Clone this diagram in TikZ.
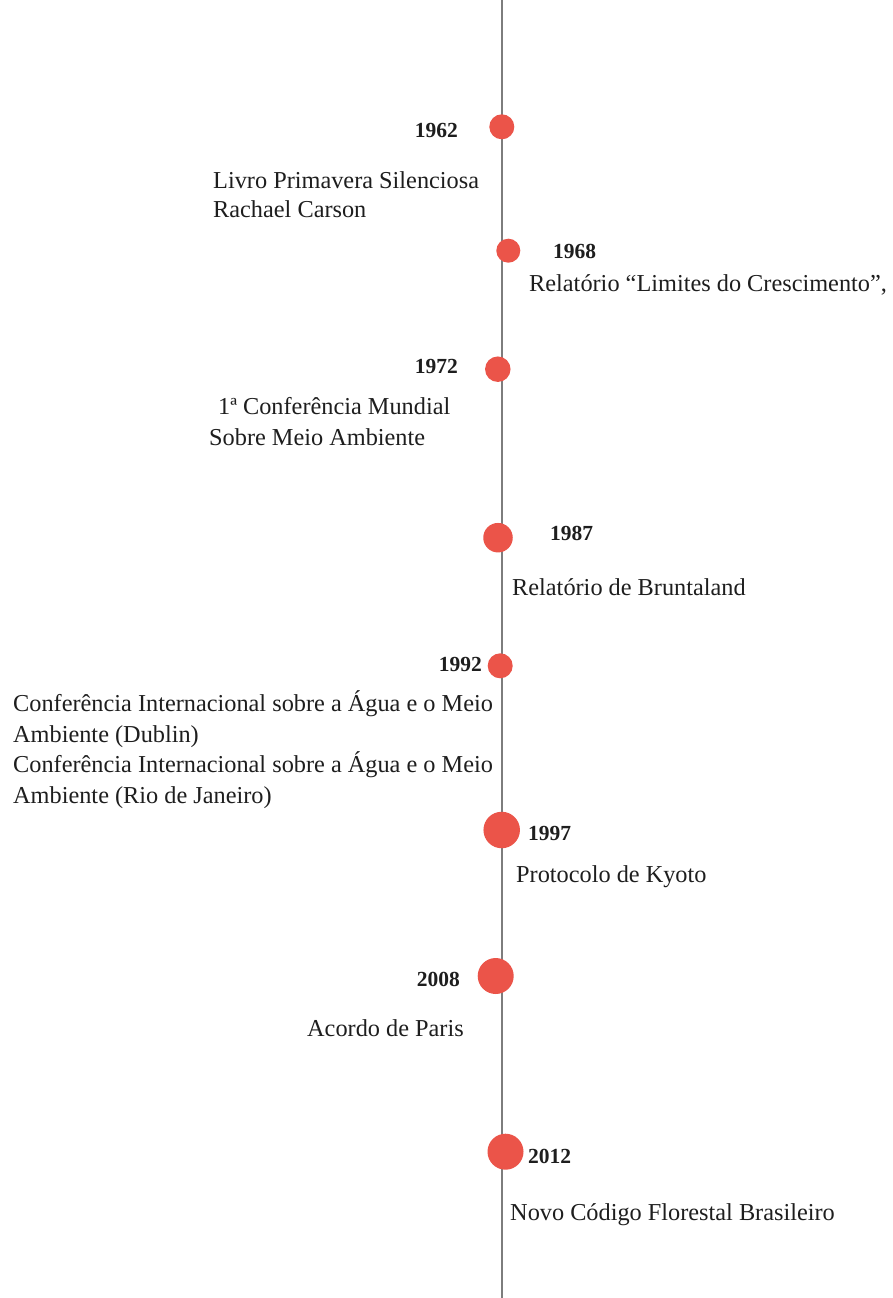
\documentclass[tikz,border=0pt]{standalone}
\usepackage{fontspec}
\setmainfont{Liberation Serif}
\definecolor{dotred}{RGB}{235,84,73}
\definecolor{axisgray}{RGB}{125,125,125}
\definecolor{txt}{RGB}{30,30,30}
\begin{document}
\begin{tikzpicture}[x=1pt,y=-1pt,
  dot/.style={circle,fill=dotred,draw=none,inner sep=0pt,minimum size=#1},
  yr/.style={inner sep=0pt,text=txt,font=\fontsize{21.5}{24}\selectfont\bfseries},
  lbl/.style={inner sep=0pt,text=txt,font=\fontsize{24.3}{29}\selectfont},
  axis/.style={draw=axisgray,line width=2pt}]
\useasboundingbox[fill=white] (0,0) rectangle (892,1298);
\coordinate (top) at (501.5,0);
\coordinate (bot) at (501.5,1298);
\draw[axis] (top) -- (bot);
% dots
\node[dot=25pt] (d1962) at (501.8,126.8) {};
\node[dot=24pt] (d1968) at (508.3,250.7) {};
\node[dot=25.5pt] (d1972) at (497.8,369.2) {};
\node[dot=29.5pt] (d1987) at (498,537.7) {};
\node[dot=25pt] (d1992) at (500.2,665.8) {};
\node[dot=36.5pt] (d1997) at (501.7,830) {};
\node[dot=36pt] (d2008) at (495.7,976) {};
\node[dot=36pt] (d2012) at (505.5,1151.7) {};
% years
\node[yr,anchor=base east] (y1962) at (458,137) {1962};
\node[yr,anchor=base west] (y1968) at (553,258) {1968};
\node[yr,anchor=base east] (y1972) at (458,373) {1972};
\node[yr,anchor=base west] (y1987) at (550,540) {1987};
\node[yr,anchor=base east] (y1992) at (482,671) {1992};
\node[yr,anchor=base west] (y1997) at (528,840) {1997};
\node[yr,anchor=base east] (y2008) at (460,986) {2008};
\node[yr,anchor=base west] (y2012) at (528,1163) {2012};
% labels
\node[lbl,anchor=base west] (l1a) at (213,188.5) {Livro Primavera Silenciosa};
\node[lbl,anchor=base west] (l1b) at (213,217.5) {Rachael Carson};
\node[lbl,anchor=base west] (l2) at (529,291) {Relatório “Limites do Crescimento”,};
\node[lbl,anchor=base west] (l3a) at (218,414) {1ª Conferência Mundial};
\node[lbl,anchor=base west] (l3b) at (209,445) {Sobre Meio Ambiente};
\node[lbl,anchor=base west] (l4) at (512,595) {Relatório de Bruntaland};
\node[lbl,anchor=base west] (l5a) at (13,711) {Conferência Internacional sobre a Água e o Meio};
\node[lbl,anchor=base west] (l5b) at (13,742) {Ambiente (Dublin)};
\node[lbl,anchor=base west] (l5c) at (13,772) {Conferência Internacional sobre a Água e o Meio};
\node[lbl,anchor=base west] (l5d) at (13,803) {Ambiente (Rio de Janeiro)};
\node[lbl,anchor=base west] (l6) at (516,882) {Protocolo de Kyoto};
\node[lbl,anchor=base west] (l7) at (307,1036) {Acordo de Paris};
\node[lbl,anchor=base west] (l8) at (510,1220) {Novo Código Florestal Brasileiro};
\end{tikzpicture}
\end{document}
